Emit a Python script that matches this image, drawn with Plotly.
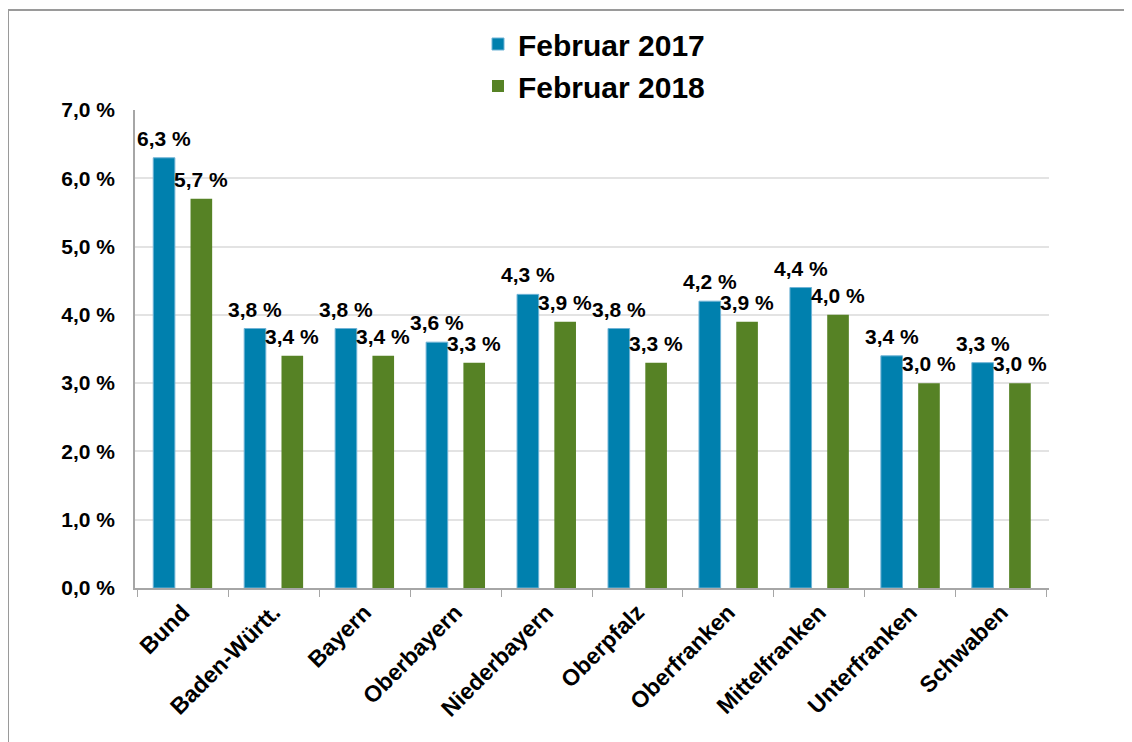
import plotly.graph_objects as go

categories = ["Bund", "Baden-Württ.", "Bayern", "Oberbayern", "Niederbayern",
              "Oberpfalz", "Oberfranken", "Mittelfranken", "Unterfranken", "Schwaben"]
feb2017 = [6.3, 3.8, 3.8, 3.6, 4.3, 3.8, 4.2, 4.4, 3.4, 3.3]
feb2018 = [5.7, 3.4, 3.4, 3.3, 3.9, 3.3, 3.9, 4.0, 3.0, 3.0]
y_ticks = [0, 1, 2, 3, 4, 5, 6, 7]

BLUE = "#0080AE"
GREEN = "#568225"
FONT = "Liberation Sans, Arial, sans-serif"


def fmt(v):
    return f"{v:.1f}".replace(".", ",") + " %"


fig = go.Figure()
fig.add_trace(go.Bar(
    name="Februar 2017", x=categories, y=feb2017,
    marker=dict(color=BLUE, line=dict(color="#6FB3D6", width=1)),
))
fig.add_trace(go.Bar(
    name="Februar 2018", x=categories, y=feb2018,
    marker=dict(color=GREEN, line=dict(color=GREEN, width=0)),
))

# page body has an 8px margin; figure coordinates are screen - 8
OFF = 8
W, H = 1132 - OFF, 742 - OFF
L = 135 - OFF
T = 110 - OFF
R = W - (1049 - OFF)
B = H - (588 - OFF)
pw, ph = W - L - R, H - T - B


def px_x(p):
    return (p - OFF - L) / pw


def px_y(p):
    return (H - B - (p - OFF)) / ph


annotations = []
for series, shift in ((feb2017, -18.7), (feb2018, 18.7)):
    for cat, v in zip(categories, series):
        annotations.append(dict(
            x=cat, y=v, xref="x", yref="y", xshift=shift, yshift=6,
            yanchor="bottom", showarrow=False, text=fmt(v),
            font=dict(family=FONT, size=21, color="black", weight="bold"),
        ))

fig.update_layout(
    width=W, height=H,
    margin=dict(l=L, r=R, t=T, b=B, autoexpand=False),
    paper_bgcolor="white", plot_bgcolor="white",
    barmode="group", bargap=0.18, bargroupgap=0.42,
    separators=",.",
    font=dict(family=FONT, color="black"),
    showlegend=True,
    legend=dict(
        orientation="v", x=px_x(594), xanchor="center", y=px_y(18), yanchor="top",
        yref="paper",
        font=dict(family=FONT, size=30, color="black", weight="bold"),
        itemwidth=30, tracegroupgap=0, bgcolor="rgba(0,0,0,0)",
    ),
    xaxis=dict(
        type="category", tickangle=-45, tickson="boundaries",
        ticks="outside", ticklen=7, tickcolor="#A6A6A6",
        showline=True, linecolor="#A6A6A6", linewidth=1.5,
        tickfont=dict(family=FONT, size=23, color="black", weight="bold"),
        showgrid=False,
    ),
    yaxis=dict(
        range=[0, 7], tickvals=y_ticks,
        ticktext=[fmt(v) for v in y_ticks],
        showline=True, linecolor="#A6A6A6", linewidth=1.5,
        showgrid=True, gridcolor="#E3E3E3", gridwidth=1.5,
        ticks="", ticklabelstandoff=14,
        tickfont=dict(family=FONT, size=21, color="black", weight="bold"),
        zeroline=False,
    ),
    annotations=annotations,
    shapes=[
        dict(type="line", xref="paper", yref="paper",
             x0=px_x(8), x1=px_x(1140), y0=px_y(10), y1=px_y(10),
             line=dict(color="#9A9A9A", width=2)),
        dict(type="line", xref="paper", yref="paper",
             x0=px_x(8), x1=px_x(8), y0=px_y(10), y1=px_y(750),
             line=dict(color="#9A9A9A", width=2)),
    ],
)

fig.write_html("out.html")
